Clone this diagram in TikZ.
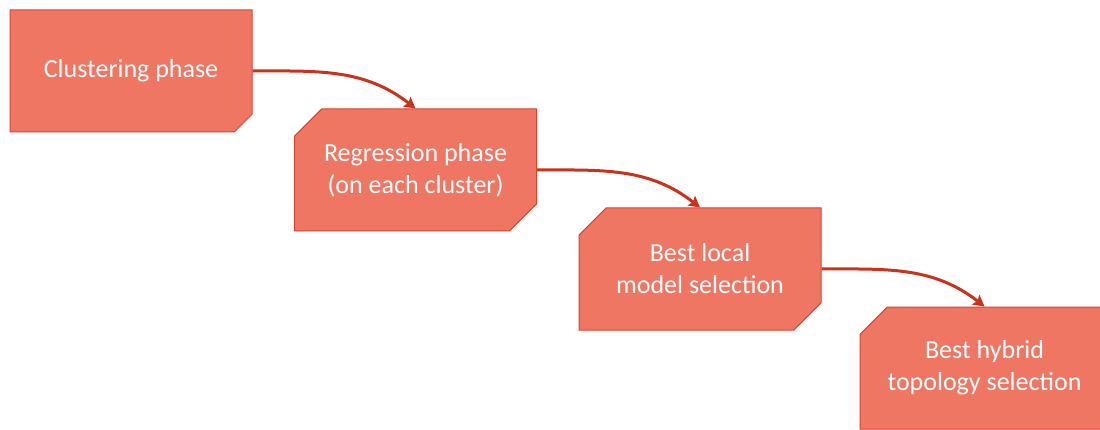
\documentclass[tikz,border=0pt]{standalone}
\usepackage{fontspec}
\setmainfont{Carlito}
\usetikzlibrary{positioning,shapes.misc,arrows.meta}

\definecolor{phasefill}{HTML}{F07664}
\definecolor{phaseline}{HTML}{D9432C}
\definecolor{flowred}{HTML}{C9321C}

\tikzset{
  phase/.style={chamfered rectangle, chamfered rectangle xsep=24pt,
    chamfered rectangle corners={#1}, draw=phaseline, line width=1pt,
    fill=phasefill, text=white, minimum width=242pt, minimum height=122pt,
    align=center, font=\fontsize{26}{32}\selectfont},
  flow/.style={draw=flowred, line width=3pt, -{Stealth[length=11pt,width=12pt,inset=2pt]}}
}

\begin{document}
\begin{tikzpicture}[x=1pt, y=1pt, node distance=99pt and 284.5pt, on grid]
  \useasboundingbox (0,0) rectangle (1100,-430);

  \node[phase={south east}] (clus) at (131,-71) {Clustering phase};
  \node[phase={north west,south east}] (regr) [below right=of clus] {Regression phase\\(on each cluster)};
  \node[phase={north west,south east}] (local) [below right=of regr] {Best local\\model selection};
  \node[phase={north west}] (hybrid) [below right=of local] {Best hybrid\\topology selection};

  \draw[flow] (clus.east) to[out=0, in=142] (regr.north);
  \draw[flow] (regr.east) to[out=0, in=142] (local.north);
  \draw[flow] (local.east) to[out=0, in=142] (hybrid.north);
\end{tikzpicture}
\end{document}
